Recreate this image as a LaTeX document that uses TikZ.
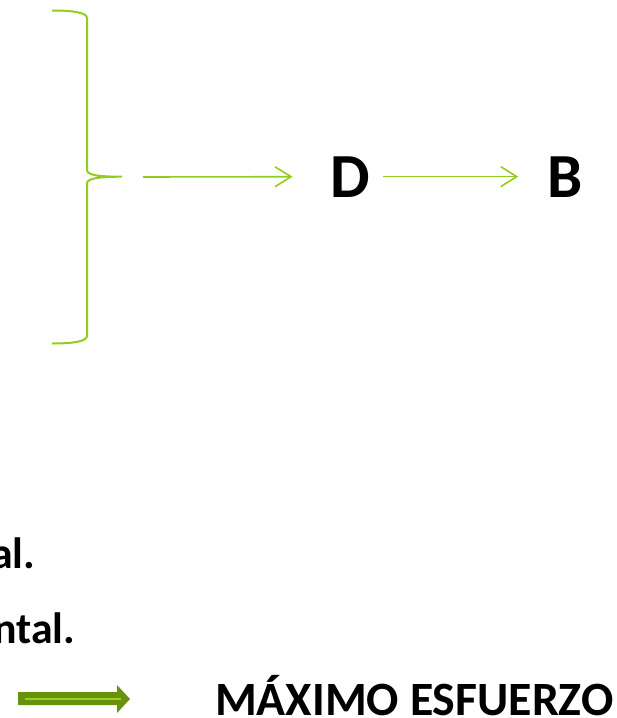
\documentclass[tikz,border=0pt]{standalone}
\usepackage{fontspec}
\setmainfont{Carlito}
\usetikzlibrary{arrows.meta, positioning}
\definecolor{bracegreen}{RGB}{146,204,30}
\definecolor{olivedark}{RGB}{104,146,14}
\definecolor{olivelight}{RGB}{156,210,30}

\begin{document}
\begin{tikzpicture}[x=1bp, y=-1bp,
  thinarrow/.style={-{Straight Barb[length=16bp, width=20bp]}, bracegreen, line width=1.6bp},
  bigletter/.style={font=\fontsize{63}{70}\selectfont\bfseries, inner sep=0pt, anchor=base},
  cuttext/.style={font=\fontsize{44}{50}\selectfont\bfseries, inner sep=0pt, anchor=base west}]
  \useasboundingbox (0,0) rectangle (617,718);

  % Brace
  \draw[bracegreen, line width=2bp] (52,10.5) .. controls (70,10.5) and (87,12) .. (87,18)
    -- (87,170) .. controls (87,175) and (98,176.7) .. (122,176.7)
    .. controls (98,176.7) and (87,178.5) .. (87,183.5)
    -- (87,336) .. controls (87,342) and (70,343.5) .. (52,343.5);
  \coordinate (from) at (143,177);

  % Chain
  \node[bigletter] (D) at (350.5,197) {D};
  \node[bigletter] (B) at (565,197) {B};
  \draw[thinarrow, shorten >=38bp] (from) -- (D.west);
  \draw[thinarrow, shorten <=13bp, shorten >=29bp] (D.east) -- (B.west);

  % Cut lines
  \node[cuttext] (al) at (-9,568) {al.};
  \node[cuttext] (ntal) at (-7,643) {ntal.};

  % Thick arrow
  \fill[olivedark] (18,692) -- (117,692) -- (117,685) -- (130,699) -- (117,713) -- (117,705) -- (18,705) -- cycle;
  \draw[olivelight, line width=2bp] (25,699) -- (121,699);
  \node[font=\fontsize{48}{54}\selectfont\bfseries, inner sep=0pt, anchor=base west] (maxeff) at (215,715) {MÁXIMO ESFUERZO};
\end{tikzpicture}
\end{document}
